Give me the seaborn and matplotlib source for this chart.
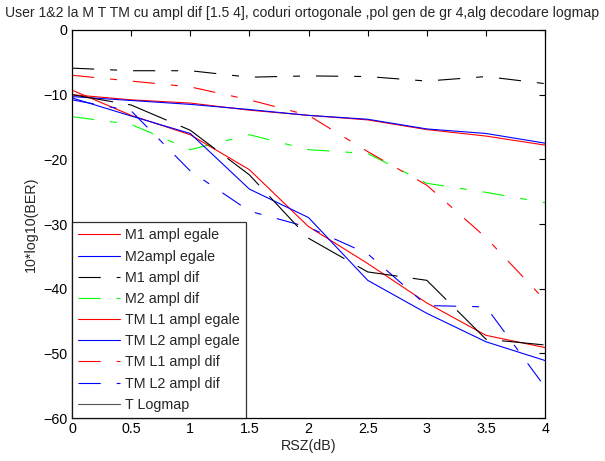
import numpy as np
import pandas as pd
import matplotlib
matplotlib.use("Agg")
import matplotlib.pyplot as plt
import seaborn as sns

# ---------------- data ----------------
rsz = [0, 0.5, 1, 1.5, 2, 2.5, 3, 3.5, 4]

m1_egale = [-10.0, -10.8, -11.3, -12.4, -13.2, -13.9, -15.4, -16.4, -17.8]
m2_egale = [-10.3, -10.9, -11.5, -12.3, -13.2, -13.8, -15.3, -16.0, -17.5]
m1_dif = [-5.9, -6.3, -6.3, -7.3, -7.1, -7.2, -7.9, -7.2, -8.3]
m2_dif = [-13.4, -14.6, -18.5, -16.2, -18.5, -19.1, -23.7, -25.1, -26.7]
tml1_egale = [-9.3, -13.2, -16.2, -21.6, -30.4, -36.1, -42.2, -47.2, -49.1]
tml2_egale = [-10.5, -13.3, -16.0, -24.6, -29.0, -38.7, -43.8, -48.2, -51.1]
tml1_dif = [-7.0, -7.9, -8.8, -10.8, -13.2, -18.8, -24.0, -32.1, -41.8]
tml2_dif = [-10.8, -12.5, -21.8, -28.0, -30.5, -34.6, -42.6, -42.8, -55.2]
t_logmap = [-10.0, -11.6, -15.5, -22.4, -32.2, -37.4, -38.7, -47.8, -48.7]

labels = ["M1 ampl egale", "M2ampl egale", "M1 ampl dif", "M2 ampl dif",
          "TM L1 ampl egale", "TM L2 ampl egale", "TM L1 ampl dif",
          "TM L2 ampl dif", "T Logmap"]
series = [m1_egale, m2_egale, m1_dif, m2_dif, tml1_egale, tml2_egale,
          tml1_dif, tml2_dif, t_logmap]

xticks = [0, 0.5, 1, 1.5, 2, 2.5, 3, 3.5, 4]
xticklabels = ["0", "0.5", "1", "1.5", "2", "2.5", "3", "3.5", "4"]
yticks = [-60, -50, -40, -30, -20, -10, 0]

title = "User 1&2 la M T TM cu ampl dif [1.5 4], coduri ortogonale ,pol gen de gr 4,alg decodare logmap"

# ---------------- styling ----------------
sns.set_theme(style="white")
plt.rcParams["font.family"] = ["Liberation Sans", "DejaVu Sans"]
plt.rcParams["lines.scale_dashes"] = False

FS = 10.3
dash = (0, (16, 11.5, 5, 11.5))
longdash = (0, (30, 11))
colors = ["#ff0000", "#0000ff", "#000000", "#00ff00",
          "#ff0000", "#0000ff", "#ff0000", "#0000ff", "#000000"]
styles = ["-", "-", dash, dash, "-", "-", dash, dash, longdash]

fig = plt.figure(figsize=(6.05, 4.61), dpi=100)
ax = fig.add_axes([0.119, 0.093, 0.782, 0.842])

for lab, vals, c, ls in zip(labels, series, colors, styles):
    df = pd.DataFrame({"x": rsz, "y": vals})
    sns.lineplot(data=df, x="x", y="y", color=c, linestyle=ls, lw=0.8,
                 label=lab, ax=ax, sort=False)

ax.set_xlim(0, 4)
ax.set_ylim(-60, 0)
ax.set_xticks(xticks)
ax.set_xticklabels(xticklabels)
ax.set_yticks(yticks)
ax.tick_params(direction="in", length=4, width=0.8, top=True, right=True,
               labelsize=FS, colors="black", pad=3)
for s in ax.spines.values():
    s.set_visible(True)
    s.set_color("black")
    s.set_linewidth(0.9)

ax.set_xlabel("RSZ(dB)", fontsize=FS, labelpad=2)
ax.set_ylabel("10*log10(BER)", fontsize=FS, labelpad=4)
fig.text(0.5, 1 - 13.5 / 461, title, fontsize=10.05, ha="center", va="center")

leg = ax.legend(loc="lower left", bbox_to_anchor=(0, 0), borderaxespad=0,
                fontsize=FS, handlelength=2.9, handletextpad=0.35,
                labelspacing=0.5, borderpad=0.45, frameon=True, fancybox=False)
leg.get_frame().set_edgecolor("black")
leg.get_frame().set_linewidth(0.9)
leg.get_lines()[-1].set_linestyle("-")
leg.get_lines()[-1].set_color("#555555")

fig.savefig("out.png", dpi=100)
